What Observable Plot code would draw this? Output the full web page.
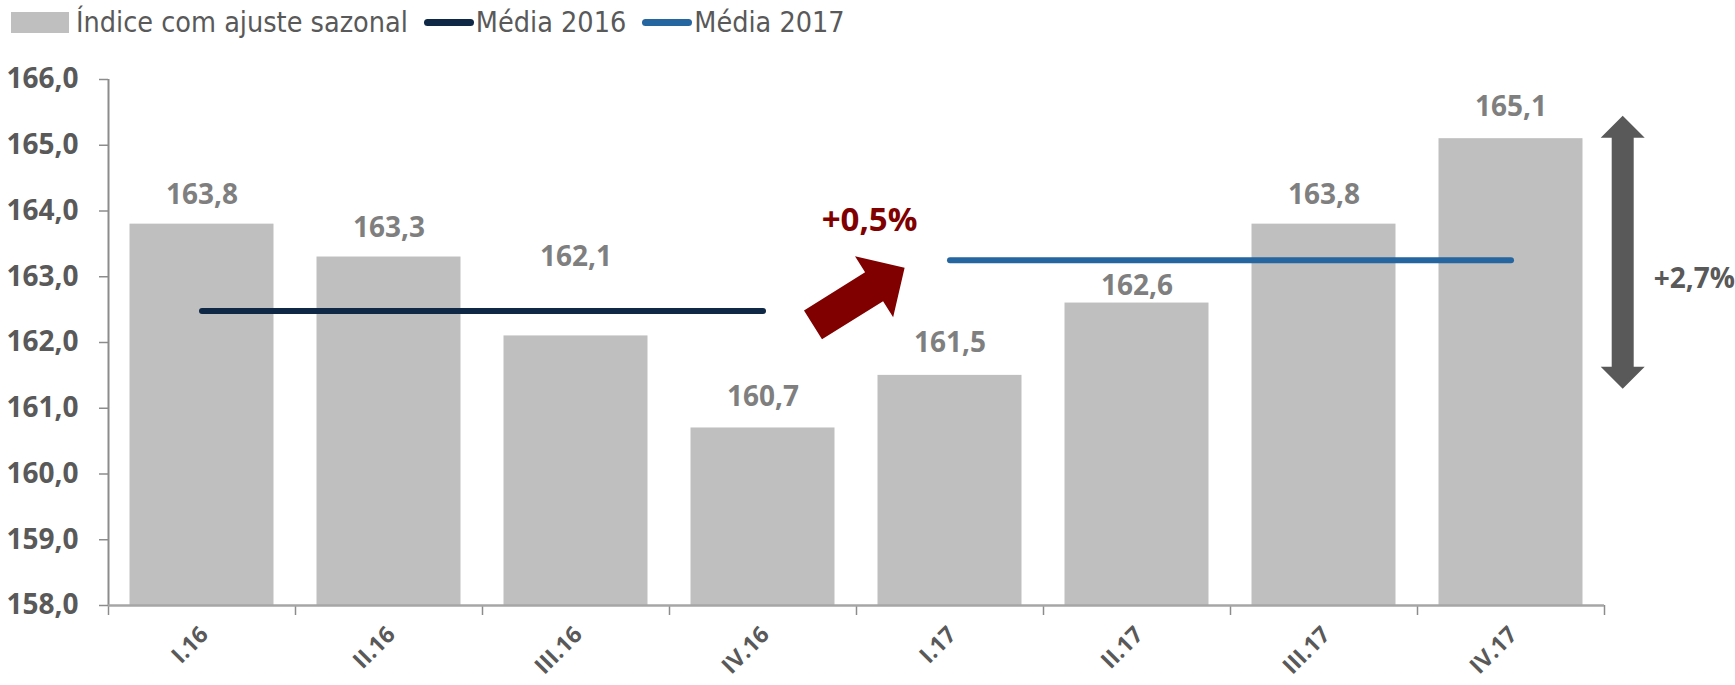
<!DOCTYPE html>
<html><head><meta charset="utf-8">
<script src="https://cdn.jsdelivr.net/npm/d3@7"></script>
<script src="https://cdn.jsdelivr.net/npm/@observablehq/plot@0.6"></script>
<style>
body{margin:0;background:#fff;font-family:"Open Sans",sans-serif;}
#legend{height:45px;position:relative;color:#595959;font-family:"Liberation Sans Narrow","DejaVu Sans Condensed","Open Sans",sans-serif;font-size:28.5px;display:flex;align-items:center;padding-left:11px;}
#legend .sw{width:58px;height:21px;background:#bfbfbf;margin-right:7px;}
#legend .ln{width:50px;height:7px;border-radius:4px;margin:0 2px 0 16px;}
svg g[aria-label="y-axis tick label"]{fill:#595959;font-weight:bold;font-size:28px;font-family:"Open Sans",sans-serif;}
svg g[aria-label="y-axis tick"], svg g[aria-label="x-axis tick"]{stroke:#8c8c8c;stroke-width:1.5px;}
</style></head>
<body>
<div id="legend"><div class="sw"></div><span>Índice com ajuste sazonal</span><div class="ln" style="background:#0f2846"></div><span>Média 2016</span><div class="ln" style="background:#2566a0"></div><span>Média 2017</span></div>
<div id="chart"></div>
<script>
const categories = ["I.16","II.16","III.16","IV.16","I.17","II.17","III.17","IV.17"];
const values = [163.8,163.3,162.1,160.7,161.5,162.6,163.8,165.1];
const yTicks = [158,159,160,161,162,163,164,165,166];
const avg2016 = 162.48;
const avg2017 = 163.25;
const changeAvg = "+0,5%";
const changeRange = "+2,7%";
// label vertical shift (px, layout only)
const labelShift = [-29,-29,-79,-31,-32,-17,-29,-32];

const fmt = d => d.toFixed(1).replace(".", ",");
const data = categories.map((c,i)=>({i, c, v: values[i], dy: labelShift[i]}));
const avgs = [
  {x1: 0.5, x2: 3.5, y: avg2016, color: "#0f2846"},
  {x1: 4.5, x2: 7.5, y: avg2017, color: "#2566a0"}
];

function blockArrow(p0, p1, shaftW, headW, headL, both) {
  const dx = p1[0]-p0[0], dy = p1[1]-p0[1], L = Math.hypot(dx,dy);
  const ux = dx/L, uy = dy/L, nx = -uy, ny = ux;
  const P = (t, s) => [p0[0]+ux*t+nx*s, p0[1]+uy*t+ny*s];
  let pts;
  if (both) {
    pts = [P(0,0), P(headL,headW/2), P(headL,shaftW/2), P(L-headL,shaftW/2), P(L-headL,headW/2), P(L,0),
           P(L-headL,-headW/2), P(L-headL,-shaftW/2), P(headL,-shaftW/2), P(headL,-headW/2)];
  } else {
    pts = [P(0,shaftW/2), P(L-headL,shaftW/2), P(L-headL,headW/2), P(L,0), P(L-headL,-headW/2), P(L-headL,-shaftW/2), P(0,-shaftW/2)];
  }
  return pts.map(p=>p.join(",")).join(" ");
}
// arrows in data coordinates (x: category index, y: value)
const arrows = [
  {x1: 3.77, y1: 162.26, x2: 4.26, y2: 163.13, fill: "#800000", shaftW: 34, headW: 72, headL: 36, both: false},
  {x1: 8.1, y1: 161.29, x2: 8.1, y2: 165.44, fill: "#595959", shaftW: 22, headW: 44, headL: 22, both: true}
];
const arrowMark = (index, scales) => {
  const g = d3.create("svg:g");
  for (const a of arrows) {
    g.append("polygon")
      .attr("points", blockArrow([scales.x(a.x1), scales.y(a.y1)], [scales.x(a.x2), scales.y(a.y2)], a.shaftW, a.headW, a.headL, a.both))
      .attr("fill", a.fill);
  }
  return g.node();
};

const shifts = Array.from(new Set(labelShift));
const valueLabels = shifts.map(s => Plot.text(data.filter(d => d.dy === s), {
  x: d => d.i + 0.5, y: "v", text: d => fmt(d.v), dy: s, fill: "#7f7f7f", fontSize: 28, fontWeight: "bold"
}));

const chart = Plot.plot({
  width: 1735,
  height: 640,
  marginLeft: 108,
  marginRight: 131,
  marginTop: 34,
  marginBottom: 80,
  style: {fontFamily: "Open Sans, sans-serif", color: "#595959", background: "#fff"},
  x: {type: "linear", domain: [0, 8], ticks: d3.range(0, 9), tickFormat: () => "", tickSize: 10, label: null},
  y: {domain: [158, 166], ticks: yTicks, tickFormat: fmt, tickSize: 9, tickPadding: 21, label: null},
  marks: [
    Plot.rectY(data, {x1: d => d.i, x2: d => d.i + 1, y1: 158, y2: "v", insetLeft: 21.5, insetRight: 21.5, fill: "#bfbfbf"}),
    Plot.ruleX([0], {stroke: "#8c8c8c", strokeWidth: 2}),
    Plot.ruleY([158], {stroke: "#a6a6a6", strokeWidth: 2.5}),
    Plot.link(avgs, {x1: "x1", x2: "x2", y1: "y", y2: "y", stroke: "color", strokeWidth: 6, strokeLinecap: "round"}),
    ...valueLabels,
    Plot.text(data, {x: d => d.i + 0.5, y: 158, text: "c", rotate: -45, textAnchor: "end", lineAnchor: "top", dx: -4, dy: 19, fill: "#595959", fontSize: 23, fontWeight: "bold"}),
    arrowMark,
    Plot.text([changeAvg], {x: 4.07, y: 163.86, text: d => d, fill: "#800000", fontSize: 33, fontWeight: "bold"}),
    Plot.text([changeRange], {x: 8.48, y: 162.96, text: d => d, fill: "#595959", fontSize: 28, fontWeight: "bold"})
  ]
});
document.getElementById("chart").appendChild(chart);
</script>
</body></html>
